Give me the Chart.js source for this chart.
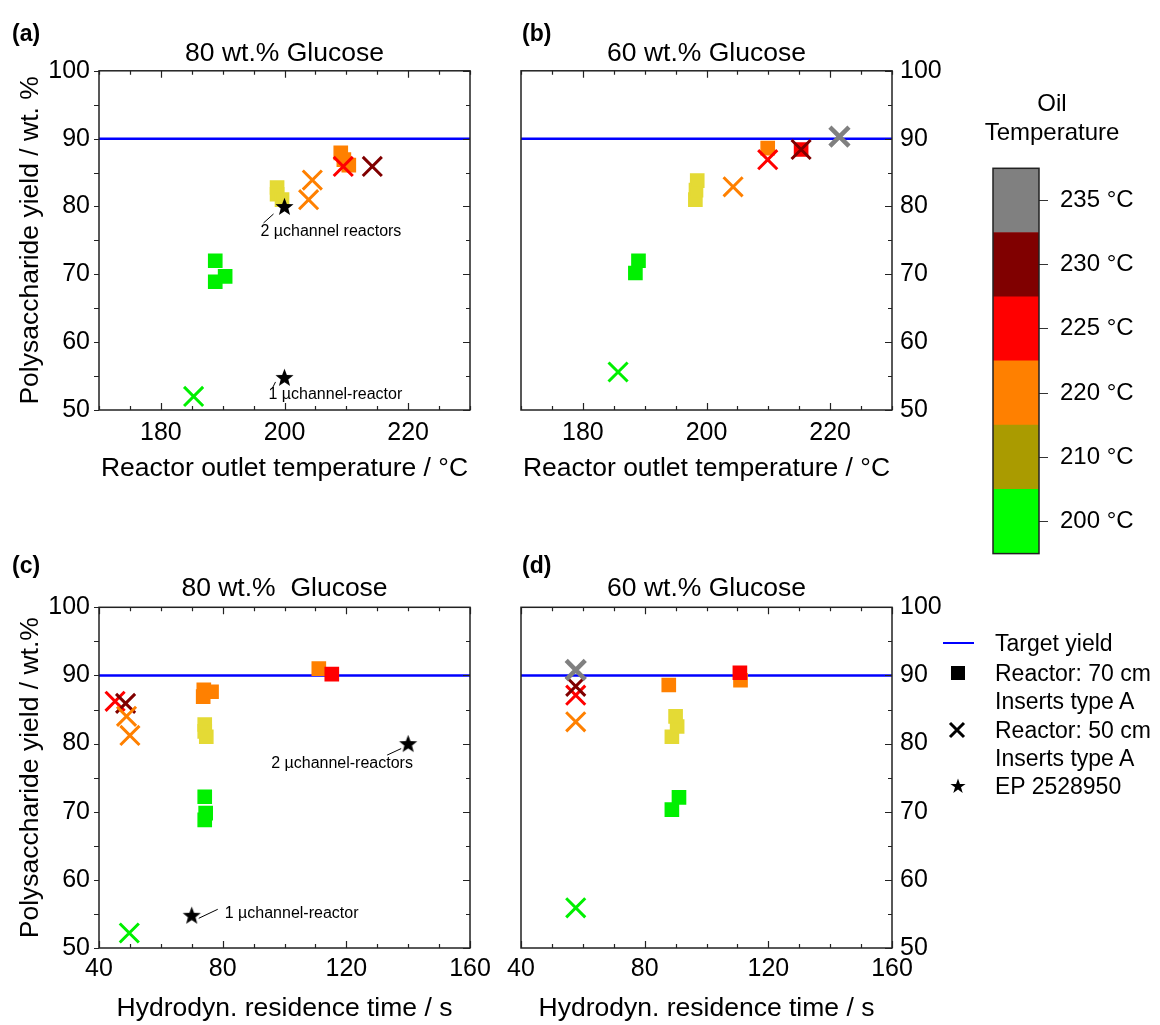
<!DOCTYPE html>
<html>
<head>
<meta charset="utf-8">
<script src="https://cdn.jsdelivr.net/npm/chart.js@4.4.0/dist/chart.umd.min.js"></script>
<style>
body{margin:0;background:#fff;width:1160px;height:1025px;overflow:hidden;position:relative;font-family:"Liberation Sans",Arial,sans-serif;color:#000;}
canvas,.txt,svg{position:absolute;}
.txt{white-space:nowrap;}
.letter{font-weight:bold;font-size:23px;line-height:28px;}
.leg{font-size:23px;line-height:26px;}
</style>
</head>
<body>
<canvas id="pa" width="500" height="490" style="left:0;top:0"></canvas>
<canvas id="pb" width="470" height="490" style="left:490px;top:0"></canvas>
<canvas id="pc" width="500" height="485" style="left:0;top:540px"></canvas>
<canvas id="pd" width="470" height="485" style="left:490px;top:540px"></canvas>
<canvas id="cbar" width="224" height="500" style="left:940px;top:80px"></canvas>

<div class="txt letter" style="left:12px;top:19px">(a)</div>
<div class="txt letter" style="left:522px;top:19px">(b)</div>
<div class="txt letter" style="left:12px;top:551px">(c)</div>
<div class="txt letter" style="left:522px;top:551px">(d)</div>

<!-- legend -->
<svg style="left:943px;top:641px" width="31" height="4"><line x1="0" y1="2" x2="31" y2="2" stroke="#0000ff" stroke-width="2"/></svg>
<div class="txt leg" style="left:995px;top:630px">Target yield</div>
<svg style="left:951px;top:666px" width="14" height="14"><rect width="14" height="14" fill="#000"/></svg>
<div class="txt leg" style="left:995px;top:660px">Reactor: 70 cm</div>
<div class="txt leg" style="left:995px;top:688px">Inserts type A</div>
<svg style="left:948px;top:721px" width="18" height="18"><path d="M2 2 L16 16 M16 2 L2 16" stroke="#000" stroke-width="3"/></svg>
<div class="txt leg" style="left:995px;top:717px">Reactor: 50 cm</div>
<div class="txt leg" style="left:995px;top:745px">Inserts type A</div>
<svg style="left:950px;top:778px" width="16" height="16"><path d="M8 0.5 L9.9 5.9 L15.6 5.9 L11 9.3 L12.7 14.9 L8 11.5 L3.3 14.9 L5 9.3 L0.4 5.9 L6.1 5.9 Z" fill="#000"/></svg>
<div class="txt leg" style="left:995px;top:773px">EP 2528950</div>

<script>
// oil temperature classes (colour bar)
const oilTemps = [200, 210, 220, 225, 230, 235];
const barColours = ['#00ff00', '#aa9b00', '#ff8000', '#ff0000', '#800000', '#808080'];
const markColours = ['#00f000', '#e4da35', '#ff8000', '#ff0000', '#800000', '#808080'];

const targetYield = 90;
const yieldTicks = [50, 60, 70, 80, 90, 100];
const tempTicks = [180, 200, 220];
const timeTicks = [40, 80, 120, 160];

// (a) 80 wt.% glucose vs reactor outlet temperature
const aSqX = [188.8, 190.4, 188.8, 198.8, 198.8, 199.6, 209.1, 209.6, 210.4];
const aSqY = [72.0, 69.7, 68.9, 82.8, 81.8, 81.0, 87.9, 86.9, 86.1];
const aSqOil = [200, 200, 200, 210, 210, 210, 220, 220, 220];
const aXX = [185.3, 203.9, 204.5, 209.5, 214.2];
const aXY = [52.0, 81.0, 83.9, 85.9, 85.9];
const aXOil = [200, 220, 220, 225, 230];
const aStarX = [200, 200];
const aStarY = [80.0, 54.8];
const aStarNote = ['2 µchannel reactors', '1 µchannel-reactor'];

// (b) 60 wt.% glucose vs reactor outlet temperature
const bSqX = [188.5, 189.0, 198.2, 198.3, 198.5, 209.9, 215.3];
const bSqY = [70.2, 72.0, 81.0, 82.4, 83.8, 88.6, 88.4];
const bSqOil = [200, 200, 210, 210, 210, 220, 225];
const bXX = [185.7, 204.3, 209.9, 215.3, 221.5];
const bXY = [55.6, 82.9, 86.9, 88.4, 90.3];
const bXOil = [200, 220, 225, 230, 235];

// (c) 80 wt.% glucose vs residence time
const cSqX = [74.2, 74.5, 74.2, 74.2, 74.2, 74.7, 73.9, 73.7, 76.4, 111.1, 115.3];
const cSqY = [72.2, 69.8, 68.8, 82.8, 81.8, 81.0, 87.9, 86.9, 87.6, 91.0, 90.2];
const cSqOil = [200, 200, 200, 210, 210, 210, 220, 220, 220, 220, 225];
const cXX = [45.2, 48.6, 48.9, 50.0, 49.8];
const cXY = [86.2, 85.9, 84.0, 81.2, 52.2];
const cXOil = [225, 230, 220, 220, 200];
const cStarX = [140, 70];
const cStarY = [80.0, 54.8];
const cStarNote = ['2 µchannel-reactors', '1 µchannel-reactor'];

// (d) 60 wt.% glucose vs residence time
const dSqX = [88.8, 91.1, 88.8, 90.5, 90.0, 87.8, 111.0, 110.8];
const dSqY = [70.3, 72.1, 81.0, 82.5, 84.0, 88.6, 89.3, 90.4];
const dSqOil = [200, 200, 210, 210, 210, 220, 220, 225];
const dXX = [57.7, 57.7, 57.7, 57.7, 57.7];
const dXY = [55.9, 83.2, 87.1, 88.4, 90.8];
const dXOil = [200, 220, 225, 230, 235];

function colourOf(t) { return markColours[oilTemps.indexOf(t)]; }
function pts(xs, ys) { return xs.map((x, i) => ({x: x, y: ys[i]})); }

function starImage(r) {
  const c = document.createElement('canvas');
  c.width = c.height = 2 * r + 2;
  const g = c.getContext('2d');
  g.beginPath();
  for (let i = 0; i < 10; i++) {
    const rr = i % 2 ? r * 0.42 : r;
    const ang = -Math.PI / 2 + i * Math.PI / 5;
    g.lineTo(r + 1 + rr * Math.cos(ang), r + 1.8 + rr * Math.sin(ang));
  }
  g.closePath();
  g.fillStyle = '#000';
  g.fill();
  return c;
}
const star = starImage(9.5);

// box + inward ticks like the original plot
const framePlugin = {
  id: 'frame',
  afterDraw(chart, args, o) {
    const ctx = chart.ctx, a = chart.chartArea;
    ctx.save();
    ctx.strokeStyle = '#222';
    ctx.lineWidth = 1.5;
    ctx.strokeRect(a.left, a.top, a.right - a.left, a.bottom - a.top);
    if (o.xMinor) {
      const xs = chart.scales.x, ys = chart.scales.y;
      ctx.lineWidth = 1.2;
      ctx.beginPath();
      for (let v = xs.min; v <= xs.max + 1e-6; v += o.xMinor) {
        const p = Math.round(xs.getPixelForValue(v)) + 0.5;
        const len = (v % o.xMajor === 0) ? 7 : 4;
        ctx.moveTo(p, a.bottom); ctx.lineTo(p, a.bottom - len);
        ctx.moveTo(p, a.top); ctx.lineTo(p, a.top + len);
      }
      for (let v = ys.min; v <= ys.max + 1e-6; v += 5) {
        const p = Math.round(ys.getPixelForValue(v)) + 0.5;
        const len = (v % 10 === 0) ? 7 : 4;
        if (o.leftOut) { ctx.moveTo(a.left, p); ctx.lineTo(a.left - 5, p); }
        ctx.moveTo(a.right, p); ctx.lineTo(a.right - len, p);
      }
      ctx.stroke();
    }
    ctx.restore();
  }
};

// text labels next to the patent stars
const notePlugin = {
  id: 'notes',
  afterDatasetsDraw(chart, args, o) {
    if (!o.items) return;
    const ctx = chart.ctx;
    ctx.save();
    ctx.font = '16px "Liberation Sans", Arial, sans-serif';
    ctx.fillStyle = '#000';
    ctx.strokeStyle = '#000';
    ctx.lineWidth = 1;
    ctx.textBaseline = 'middle';
    o.items.forEach(n => {
      const px = chart.scales.x.getPixelForValue(n.x);
      const py = chart.scales.y.getPixelForValue(n.y);
      ctx.beginPath();
      ctx.moveTo(px + n.line[0], py + n.line[1]);
      ctx.lineTo(px + n.line[2], py + n.line[3]);
      ctx.stroke();
      ctx.fillText(n.text, px + n.at[0], py + n.at[1]);
    });
    ctx.restore();
  }
};

const fam = '"Liberation Sans", Arial, sans-serif';
const tickFont = {size: 25, family: fam};
const titleFont = {size: 26.5, family: fam, weight: 'normal'};

function panel(id, p) {
  const datasets = [
    {type: 'line', data: [{x: p.xMin, y: targetYield}, {x: p.xMax, y: targetYield}],
     borderColor: '#0000ff', borderWidth: 2.5, pointRadius: 0, order: 3},
    {data: pts(p.sqX, p.sqY), pointStyle: 'rect', pointRadius: 9.3,
     pointBackgroundColor: p.sqOil.map(colourOf), pointBorderColor: p.sqOil.map(colourOf),
     pointBorderWidth: 1.5, order: 2},
    {data: pts(p.xX, p.xY), pointStyle: 'crossRot', pointRadius: 13.5,
     pointBorderColor: p.xOil.map(colourOf), pointBorderWidth: p.xOil.map(t => t === 235 ? 4.5 : 3),
     order: 1}
  ];
  if (p.starX) {
    datasets.push({data: pts(p.starX, p.starY), pointStyle: star, pointRadius: 9, order: 0});
  }
  const yScale = {
    type: 'linear', position: p.yPos, min: 50, max: 100,
    afterBuildTicks: s => { s.ticks = yieldTicks.map(v => ({value: v})); },
    ticks: {font: tickFont, color: '#000', padding: p.yPos === 'left' ? 9 : 8},
    grid: {display: false, drawTicks: false}, border: {display: false},
    afterFit: s => { s.width = p.yW; }
  };
  if (p.yTitle) {
    yScale.title = {display: true, text: p.yTitle, font: titleFont, color: '#000', padding: {top: 15, bottom: 0}};
  }
  return new Chart(document.getElementById(id), {
    type: 'scatter',
    data: {datasets: datasets},
    options: {
      responsive: false, animation: false, events: [],
      layout: {padding: p.pad},
      plugins: {
        legend: {display: false}, tooltip: {enabled: false},
        title: {display: true, text: p.title, font: titleFont, color: '#000', fullSize: false,
                padding: {top: 0, bottom: p.titleGap}},
        frame: {xMinor: p.xMinor, xMajor: p.xMajor, leftOut: p.yPos === 'left'},
        notes: {items: p.notes}
      },
      scales: {
        x: {
          type: 'linear', min: p.xMin, max: p.xMax,
          afterBuildTicks: s => { s.ticks = p.xTicks.map(v => ({value: v})); },
          ticks: {font: tickFont, color: '#000', padding: p.xPad, maxRotation: 0},
          grid: {display: false, drawTicks: false}, border: {display: false},
          title: {display: true, text: p.xTitle, font: titleFont, color: '#000', padding: {top: 0, bottom: p.xTitleGap}},
          afterFit: s => { s.height = p.xH; }
        },
        y: yScale
      }
    },
    plugins: [framePlugin, notePlugin]
  });
}

panel('pa', {
  title: '80 wt.% Glucose', xTitle: 'Reactor outlet temperature / °C', yTitle: 'Polysaccharide yield / wt. %',
  xMin: 170, xMax: 230, xTicks: tempTicks, xMinor: 5, xMajor: 20,
  sqX: aSqX, sqY: aSqY, sqOil: aSqOil, xX: aXX, xY: aXY, xOil: aXOil, starX: aStarX, starY: aStarY,
  notes: [
    {x: aStarX[0], y: aStarY[0], text: aStarNote[0], at: [-24, 25], line: [-11, 7.5, -21, 16.5]},
    {x: aStarX[1], y: aStarY[1], text: aStarNote[1], at: [-16, 17.5], line: [-9, 4.5, -12, 10.5]}
  ],
  yPos: 'left', yW: 99, xH: 80, pad: {left: 0, right: 30, top: 38, bottom: 0},
  titleGap: 1, xPad: 8, xTitleGap: 5
});

panel('pb', {
  title: '60 wt.% Glucose', xTitle: 'Reactor outlet temperature / °C',
  xMin: 170, xMax: 230, xTicks: tempTicks, xMinor: 5, xMajor: 20,
  sqX: bSqX, sqY: bSqY, sqOil: bSqOil, xX: bXX, xY: bXY, xOil: bXOil,
  yPos: 'right', yW: 68, xH: 80, pad: {left: 31, right: 0, top: 38, bottom: 0},
  titleGap: 1, xPad: 8, xTitleGap: 5
});

panel('pc', {
  title: '80 wt.%  Glucose', xTitle: 'Hydrodyn. residence time / s', yTitle: 'Polysaccharide yield / wt.%',
  xMin: 40, xMax: 160, xTicks: timeTicks, xMinor: 10, xMajor: 40,
  sqX: cSqX, sqY: cSqY, sqOil: cSqOil, xX: cXX, xY: cXY, xOil: cXOil, starX: cStarX, starY: cStarY,
  notes: [
    {x: cStarX[0], y: cStarY[0], text: cStarNote[0], at: [-137, 20], line: [-7, 5, -21, 11.5]},
    {x: cStarX[1], y: cStarY[1], text: cStarNote[1], at: [33, -2], line: [7, 3, 26, -6]}
  ],
  yPos: 'left', yW: 99, xH: 77, pad: {left: 0, right: 30, top: 33, bottom: 0},
  titleGap: 2.5, xPad: 6, xTitleGap: 0
});

panel('pd', {
  title: '60 wt.% Glucose', xTitle: 'Hydrodyn. residence time / s',
  xMin: 40, xMax: 160, xTicks: timeTicks, xMinor: 10, xMajor: 40,
  sqX: dSqX, sqY: dSqY, sqOil: dSqOil, xX: dXX, xY: dXY, xOil: dXOil,
  yPos: 'right', yW: 68, xH: 77, pad: {left: 31, right: 0, top: 33, bottom: 0},
  titleGap: 2.5, xPad: 6, xTitleGap: 0
});

// colour bar as a single stacked bar
new Chart(document.getElementById('cbar'), {
  type: 'bar',
  data: {
    labels: [''],
    datasets: oilTemps.map((t, i) => ({data: [1], backgroundColor: barColours[i], borderWidth: 0,
                                        barPercentage: 1, categoryPercentage: 1,
                                        xAxisID: 'x', yAxisID: 'y'}))
  },
  options: {
    responsive: false, animation: false, events: [],
    layout: {padding: {left: 0, right: 0, top: 10, bottom: 17}},
    plugins: {
      legend: {display: false}, tooltip: {enabled: false},
      title: {display: true, text: ['Oil', 'Temperature'], font: {size: 24, weight: 'normal', family: fam},
              color: '#000', padding: {top: 0, bottom: 20.7}},
      frame: {}
    },
    scales: {
      x: {display: false, stacked: true},
      y: {
        stacked: true, position: 'right', min: 0, max: oilTemps.length,
        afterBuildTicks: s => { s.ticks = oilTemps.map((t, i) => ({value: i + 0.5})); },
        ticks: {callback: v => oilTemps[Math.floor(v)] + ' °C', font: {size: 24, family: fam},
                color: '#000', padding: 12},
        grid: {drawOnChartArea: false, tickLength: 9, color: '#333', lineWidth: 1},
        border: {display: false},
        afterFit: s => { s.width = 125; }
      },
      gap: {
        type: 'linear', axis: 'y', position: 'left', display: true,
        ticks: {display: false}, grid: {display: false, drawTicks: false}, border: {display: false},
        afterFit: s => { s.width = 53; }
      }
    }
  },
  plugins: [framePlugin]
});
</script>
</body>
</html>
